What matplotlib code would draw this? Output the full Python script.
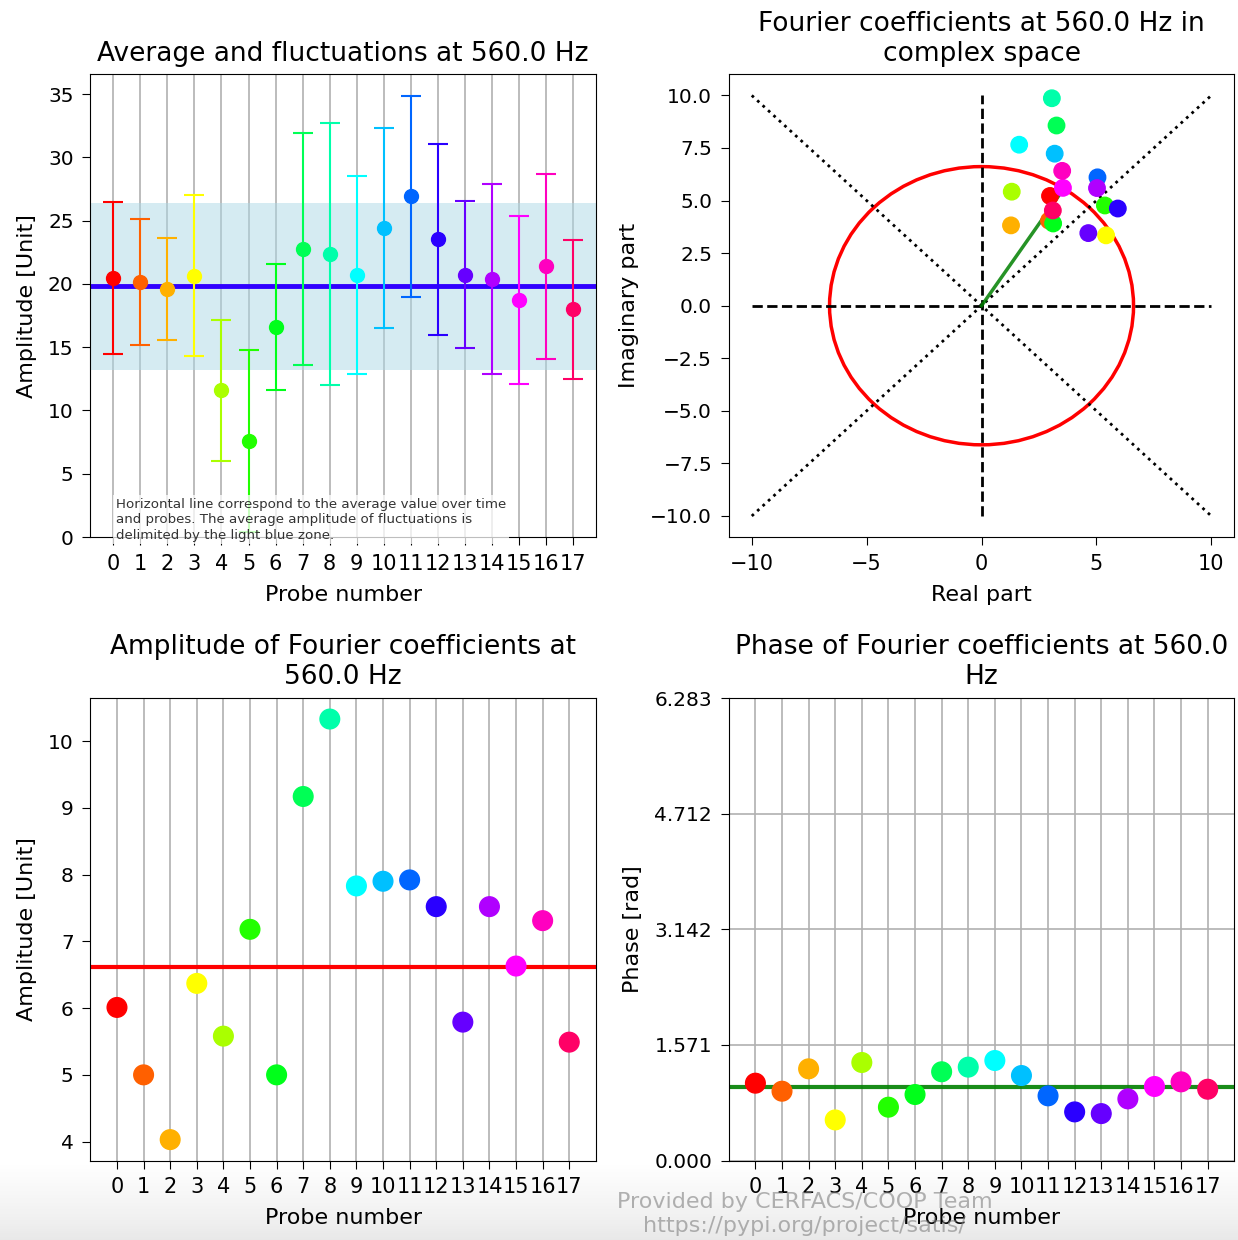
import numpy as np
import matplotlib
matplotlib.use("Agg")
import matplotlib.pyplot as plt
from matplotlib.patches import Circle

FREQ = 560.0
probes = list(range(18))
mean_values = [20.5, 20.17, 19.64, 20.64, 11.6, 7.58, 16.6, 22.75, 22.38,
               20.74, 24.39, 26.92, 23.52, 20.74, 20.37, 18.76, 21.38, 18.0]
amplitudes = [6.01, 5.0, 4.03, 6.37, 5.58, 7.18, 5.0, 9.17, 10.33,
              7.83, 7.9, 7.92, 7.52, 5.79, 7.52, 6.63, 7.31, 5.49]
phases = [1.052, 0.943, 1.247, 0.553, 1.333, 0.726, 0.898, 1.207, 1.27,
          1.36, 1.156, 0.88, 0.662, 0.639, 0.839, 1.007, 1.07, 0.97]
GUIDE = 10

# one colour per probe
probe_colors = ["#ff0000", "#ff6000", "#ffb000", "#ffff00", "#aaff00", "#22ff00",
                "#00ff1a", "#00ff55", "#00ffaa", "#00ffff", "#00c0ff", "#0066ff",
                "#2a00ff", "#6600ff", "#b000ff", "#ff00ff", "#ff00c0", "#ff0066"]

NOTE = ("Horizontal line correspond to the average value over time\n"
        "and probes. The average amplitude of fluctuations is\n"
        "delimited by the light blue zone.")
CREDIT = "Provided by CERFACS/COOP Team\nhttps://pypi.org/project/satis/"

plt.rcParams.update({
    "font.size": 16,
    "axes.titlesize": 19,
    "axes.titlepad": 10,
    "axes.labelsize": 16,
    "axes.labelpad": 8,
    "xtick.labelsize": 15,
    "ytick.labelsize": 14.5,
    "xtick.major.size": 5.5,
    "ytick.major.size": 5.5,
    "xtick.major.pad": 6.5,
    "ytick.major.pad": 6.5,
})

amp = np.array(amplitudes)
phase = np.array(phases)
coeffs = amp * np.exp(1j * phase)
mean_coeff = coeffs.mean()
mean_amp = abs(mean_coeff)
mean_phase = np.angle(mean_coeff)
average = np.mean(mean_values)

fig, axes = plt.subplots(2, 2, figsize=(12.38, 12.4), dpi=100)
fig.subplots_adjust(left=0.073, right=0.997, top=0.94, bottom=0.064,
                    wspace=0.263, hspace=0.348)

# average and fluctuations
ax = axes[0, 0]
ax.axhspan(average - mean_amp, average + mean_amp, color="lightblue", alpha=0.5, lw=0)
ax.axhline(average, color="#3000ff", lw=3.5)
for i, c in enumerate(probe_colors):
    ax.errorbar(probes[i], mean_values[i], yerr=amplitudes[i], fmt="o", color=c,
                ms=10, capsize=7, elinewidth=1.5, capthick=1.5)
ax.set_ylim(bottom=0)
ax.set_xticks(probes)
ax.grid(axis="x", lw=1.2)
ax.set_axisbelow(True)
ax.set_xlabel("Probe number")
ax.set_ylabel("Amplitude [Unit]")
ax.set_title(f"Average and fluctuations at {FREQ} Hz")
ax.text(0.051, -0.01, NOTE, transform=ax.transAxes, fontsize=9.6, linespacing=1.22,
        va="bottom", ha="left", color="#333333", zorder=5,
        bbox=dict(facecolor="white", edgecolor="none", alpha=0.75, pad=2))

# complex space
ax = axes[0, 1]
ax.plot([-GUIDE, GUIDE], [-GUIDE, GUIDE], "k:", lw=2)
ax.plot([-GUIDE, GUIDE], [GUIDE, -GUIDE], "k:", lw=2)
ax.plot([-GUIDE, GUIDE], [0, 0], "k--", lw=2)
ax.plot([0, 0], [-GUIDE, GUIDE], "k--", lw=2)
ax.add_patch(Circle((0, 0), mean_amp, fill=False, color="red", lw=2.5))
ax.plot([0, mean_coeff.real], [0, mean_coeff.imag], color="green", lw=2.5, alpha=0.85)
ax.scatter(coeffs.real, coeffs.imag, c=probe_colors, s=140, zorder=3)
ax.set_xlabel("Real part")
ax.set_ylabel("Imaginary part")
ax.set_title(f"Fourier coefficients at {FREQ} Hz in\ncomplex space")

# amplitude
ax = axes[1, 0]
ax.axhline(mean_amp, color="red", lw=3)
ax.scatter(probes, amplitudes, c=probe_colors, s=200, zorder=3)
ax.set_xlim(-1, 18)
ax.set_xticks(probes)
ax.grid(axis="x", lw=1.2)
ax.set_axisbelow(True)
ax.set_xlabel("Probe number")
ax.set_ylabel("Amplitude [Unit]")
ax.set_title(f"Amplitude of Fourier coefficients at\n{FREQ} Hz")

# phase
ax = axes[1, 1]
ax.axhline(mean_phase, color="green", lw=3, alpha=0.9)
ax.scatter(probes, phases, c=probe_colors, s=200, zorder=3)
ax.set_xlim(-1, 18)
ax.set_ylim(0, 2 * np.pi)
ax.set_xticks(probes)
ax.set_yticks(np.linspace(0, 2 * np.pi, 5))
ax.set_yticklabels([f"{v:.3f}" for v in np.linspace(0, 2 * np.pi, 5)])
ax.grid(lw=1.2)
ax.set_axisbelow(True)
ax.set_xlabel("Probe number")
ax.set_ylabel("Phase [rad]")
ax.set_title(f"Phase of Fourier coefficients at {FREQ}\nHz")

# bottom shading and credits
bg = fig.add_axes([0, 0, 1, 0.062], zorder=-1)
bg.imshow(np.linspace(0, 1, 50).reshape(-1, 1), aspect="auto", cmap="Greys",
          vmin=0, vmax=6, extent=[0, 1, 0, 1], origin="upper")
bg.axis("off")
fig.text(0.65, 0.021, CREDIT, ha="center", va="center", color="gray",
         alpha=0.6, fontsize=16)

fig.savefig("out.png", dpi=100)
